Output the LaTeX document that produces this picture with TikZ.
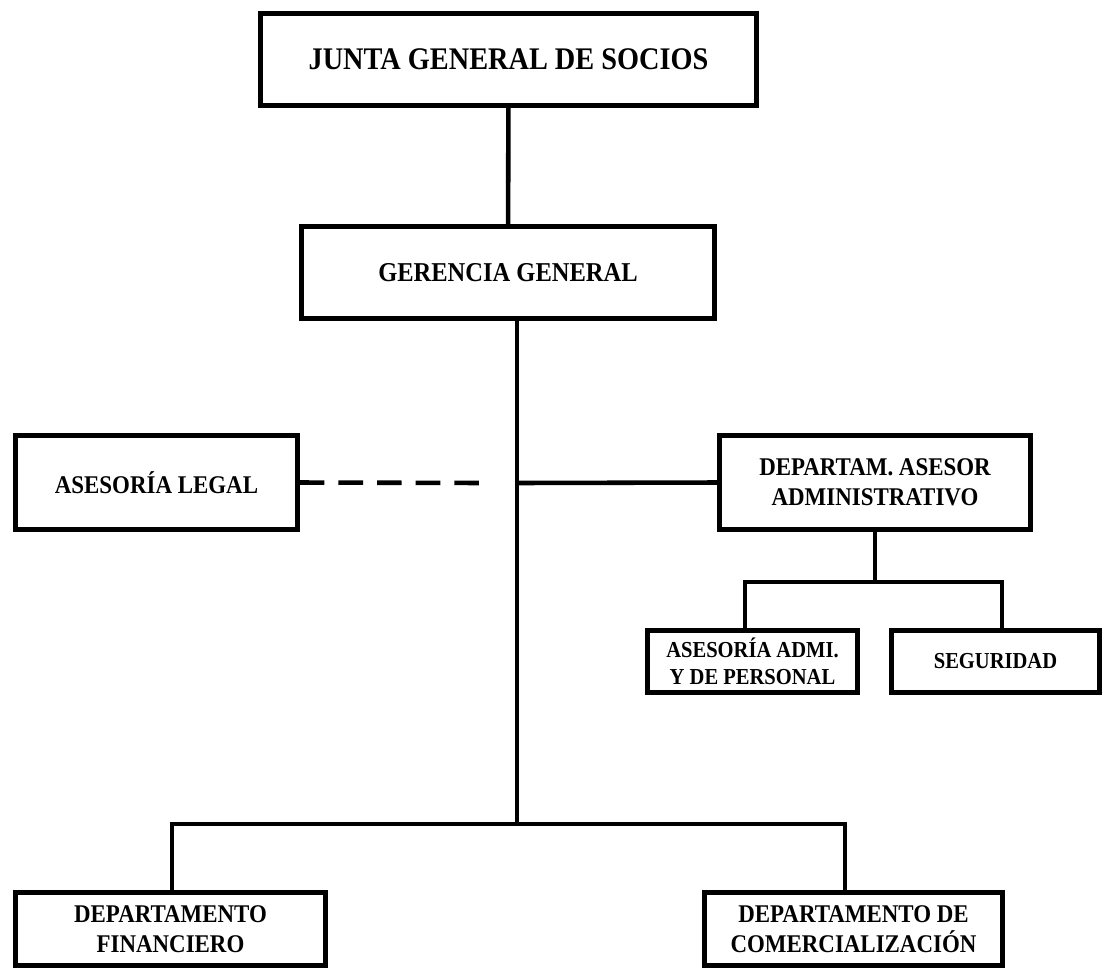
\documentclass[tikz,border=0pt]{standalone}
\usepackage{fontspec}
\setmainfont{Liberation Serif}[FakeStretch=0.9]
\begin{document}
\begin{tikzpicture}[
  x=0.02cm, y=-0.02cm,
  box/.style={draw, line width=2.6pt, align=center, inner sep=0pt},
  link/.style={line width=2.6pt},
  big/.style={font=\bfseries\fontsize{17.9}{21}\selectfont},
  mid/.style={font=\bfseries\fontsize{14.5}{17}\selectfont},
  small/.style={font=\bfseries\fontsize{13}{15.4}\selectfont}
]
\useasboundingbox (0,0) rectangle (1103,971);
\node[box, big, minimum width=9.92cm, minimum height=1.84cm] (junta) at (508.5,59.5) {JUNTA GENERAL DE SOCIOS};
\node[box, mid, font=\bfseries\fontsize{15.5}{18}\selectfont, minimum width=8.26cm, minimum height=1.84cm] (gerencia) at (508,272.5) {GERENCIA GENERAL};
\node[box, mid, minimum width=5.64cm, minimum height=1.88cm] (legal) at (156.5,482.5) {ASESORÍA LEGAL};
\node[box, mid, minimum width=6.22cm, minimum height=1.88cm] (depto) at (875,482.5) {DEPARTAM. ASESOR\\ADMINISTRATIVO};
\node[box, small, minimum width=4.2cm, minimum height=1.24cm] (admi) at (752.5,661.5) {ASESORÍA ADMI.\\Y DE PERSONAL};
\node[box, small, minimum width=4.16cm, minimum height=1.24cm] (seg) at (995.5,661.5) {SEGURIDAD};
\node[box, mid, minimum width=6.2cm, minimum height=1.46cm] (fin) at (170.5,929) {DEPARTAMENTO\\FINANCIERO};
\node[box, mid, minimum width=5.96cm, minimum height=1.46cm] (com) at (853.5,929) {DEPARTAMENTO DE\\COMERCIALIZACIÓN};
% junction points
\coordinate (bus) at (517,824);
\coordinate (hub) at (517,483);
\coordinate (legalend) at (484,483);
\coordinate (bl) at (172,824);
\coordinate (br) at (845,824);
\coordinate (sbl) at (745,582);
\coordinate (sbr) at (1002,582);
% connectors
\draw[link] (junta) -- (gerencia);
\draw[link] (gerencia.south -| bus) -- (bus);
\draw[link] (hub) -- (depto.west);
\draw[link, dash pattern=on 14pt off 8pt] (legal.east) -- (legalend);
\draw[link] (fin.north -| bl) -- (bl) -- (br) -- (com.north -| br);
\draw[link] (depto.south) -- (depto.south |- sbl);
\draw[link] (admi.north -| sbl) -- (sbl) -- (sbr) -- (seg.north -| sbr);
\end{tikzpicture}
\end{document}
